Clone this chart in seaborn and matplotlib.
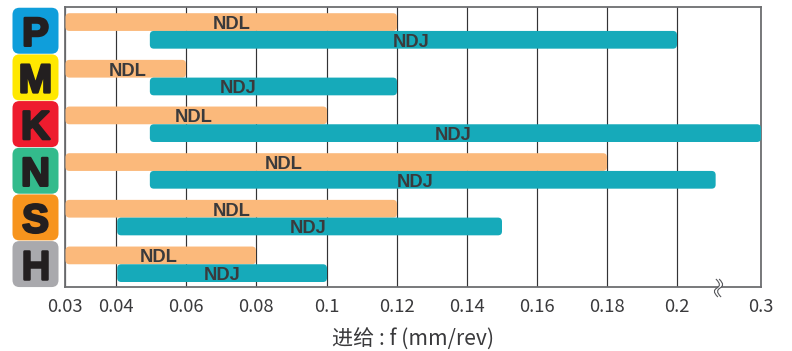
import numpy as np
import pandas as pd
import matplotlib
matplotlib.use("Agg")
import matplotlib.pyplot as plt
import seaborn as sns
from matplotlib.patches import FancyBboxPatch, PathPatch
from matplotlib.path import Path
from matplotlib.transforms import IdentityTransform
import matplotlib.patheffects as pe

materials = ["P", "M", "K", "N", "S", "H"]
badge_colors = ["#0f9edb", "#ffe800", "#ee1c2e", "#33bb8c", "#f7941d", "#a9a9ad"]
ndl_start = [0.03, 0.03, 0.03, 0.03, 0.03, 0.03]
ndl_end = [0.12, 0.06, 0.10, 0.18, 0.12, 0.08]
ndj_start = [0.05, 0.05, 0.05, 0.05, 0.04, 0.04]
ndj_end = [0.20, 0.12, 0.30, 0.246, 0.15, 0.10]
tick_values = [0.03, 0.04, 0.06, 0.08, 0.10, 0.12, 0.14, 0.16, 0.18, 0.20, 0.30]
tick_labels = ["0.03", "0.04", "0.06", "0.08", "0.1", "0.12", "0.14", "0.16", "0.18", "0.2", "0.3"]
x_label = "进给 : f (mm/rev)"

W, H = 792, 351
sns.set_style("white")
plt.rcParams["font.family"] = ["Noto Sans CJK SC", "DejaVu Sans"]

ORANGE, TEAL, INK = "#fbb97b", "#16aaba", "#3a3a3c"
AX_L, AX_R, AX_T, AX_B = 65, 761, 7, 287

fig = plt.figure(figsize=(W / 100, H / 100), dpi=100)
ax = fig.add_axes([AX_L / W, (H - AX_B) / H, (AX_R - AX_L) / W, (AX_B - AX_T) / H])

df = pd.DataFrame({
    "material": materials * 2,
    "tool": ["NDL"] * 6 + ["NDJ"] * 6,
    "end": ndl_end + ndj_end,
})
sns.barplot(data=df, y="material", x="end", hue="tool", order=materials,
            hue_order=["NDL", "NDJ"], palette=[ORANGE, TEAL], saturation=1,
            width=0.76, gap=0, legend=False, ax=ax)

# Axis with uneven spacing between the printed ticks (broken before 0.3)
tick_pos = np.array([0, 50.7, 121, 191, 262, 332, 402, 472, 542, 612, 696], dtype=float)
tick_arr = np.array(tick_values)
ax.set_xscale("function", functions=(lambda v: np.interp(v, tick_arr, tick_pos),
                                     lambda p: np.interp(p, tick_pos, tick_arr)))
ax.set_xlim(0.03, 0.30)
ax.set_ylim(5.5, -0.5)
ax.set_xticks(tick_values)
ax.set_xticklabels(tick_labels)
ax.xaxis.set_minor_locator(matplotlib.ticker.NullLocator())
ax.set_yticks([])
ax.set_ylabel("")
ax.set_xlabel(x_label, fontsize=15.2, color=INK, labelpad=9)
ax.tick_params(axis="x", length=0, labelsize=13.2, labelcolor=INK, pad=8)
ax.grid(axis="x", color="#333335", linewidth=0.85, zorder=0)
ax.set_axisbelow(True)
for s in ax.spines.values():
    s.set_visible(True)
    s.set_color("#6d6e71")
    s.set_linewidth(1.3)

identity = IdentityTransform()
to_disp = ax.transData.transform

# pixel nudges of the labels and bar starts relative to the axis grid
ndl_nudge = [0, 1.5, -2.5, -53, 0, -2.5]
ndj_nudge = [-2, -35, -2, -17.5, -1, 0]
ndl_start_nudge = [0.5] * 6
ndj_start_nudge = [-1, -1, -1, -1, 1.5, 1.5]

for cont, starts, label, nudges, s_nudges in zip(
        ax.containers, [ndl_start, ndj_start], ["NDL", "NDJ"],
        [ndl_nudge, ndj_nudge], [ndl_start_nudge, ndj_start_nudge]):
    for patch, start, nudge, sn in zip(cont.patches, starts, nudges, s_nudges):
        yc = patch.get_y() + patch.get_height() / 2
        y0 = patch.get_y()
        y1 = y0 + patch.get_height()
        x_end = patch.get_x() + patch.get_width()
        color = patch.get_facecolor()
        patch.set_visible(False)
        (px0, py0), (px1, py1) = to_disp([(start, y1), (x_end, y0)])
        px0 += sn
        py0 -= 0.6
        py1 -= 0.6
        r = 4
        bar = FancyBboxPatch((px0 + r, py0 + r), px1 - px0 - 2 * r, py1 - py0 - 2 * r,
                             boxstyle=f"round,pad={r},rounding_size={r}",
                             facecolor=color, edgecolor="none", transform=identity,
                             zorder=3, clip_on=False)
        ax.add_artist(bar)
        _, ty = to_disp([(start, yc)])[0]
        ax.text((px0 + px1) / 2 + nudge, ty - 1.0, label, transform=identity, ha="center",
                va="center_baseline", fontsize=13.2, fontweight="bold",
                family="Liberation Sans", color=INK, zorder=4)

# Material badges
for i, (m, c) in enumerate(zip(materials, badge_colors)):
    _, yc = to_disp([(0.03, i)])[0]
    yc = yc - 0.4
    size, r = 46, 7
    x0 = 12.5
    fig.add_artist(FancyBboxPatch((x0 + r, yc - size / 2 + r), size - 2 * r, size - 2 * r,
                                  boxstyle=f"round,pad={r},rounding_size={r}",
                                  facecolor=c, edgecolor="none", transform=identity))
    t = fig.text((x0 + size / 2) / W, yc / H, m, ha="center", va="center_baseline",
                 fontsize=29, fontweight="bold", family="Liberation Sans", color="#231f20")
    t.set_path_effects([pe.withStroke(linewidth=1.8, foreground="#231f20")])

# Axis-break squiggle
def squiggle(dx):
    x, y = 718.5 + dx, H - 279
    return [(x - 1, y), (x + 4, y - 5), (x + 3, y - 7), (x, y - 9),
            (x - 3, y - 11), (x - 4, y - 13), (x + 1, y - 18)]
codes = [Path.MOVETO, Path.CURVE4, Path.CURVE4, Path.CURVE4, Path.CURVE4, Path.CURVE4, Path.CURVE4]
left, right = squiggle(-1.6), squiggle(1.6)
fill_verts = left + right[::-1] + [left[0]]
fill_codes = codes + [Path.LINETO] + codes[1:] + [Path.CLOSEPOLY]
ax.add_artist(PathPatch(Path(fill_verts, fill_codes), facecolor="white", edgecolor="none",
                        transform=identity, zorder=5, clip_on=False))
for v in (left, right):
    ax.add_artist(PathPatch(Path(v, codes), facecolor="none", edgecolor="#55565a", linewidth=0.8,
                            transform=identity, zorder=6, clip_on=False))

fig.savefig("out.png", dpi=100)
